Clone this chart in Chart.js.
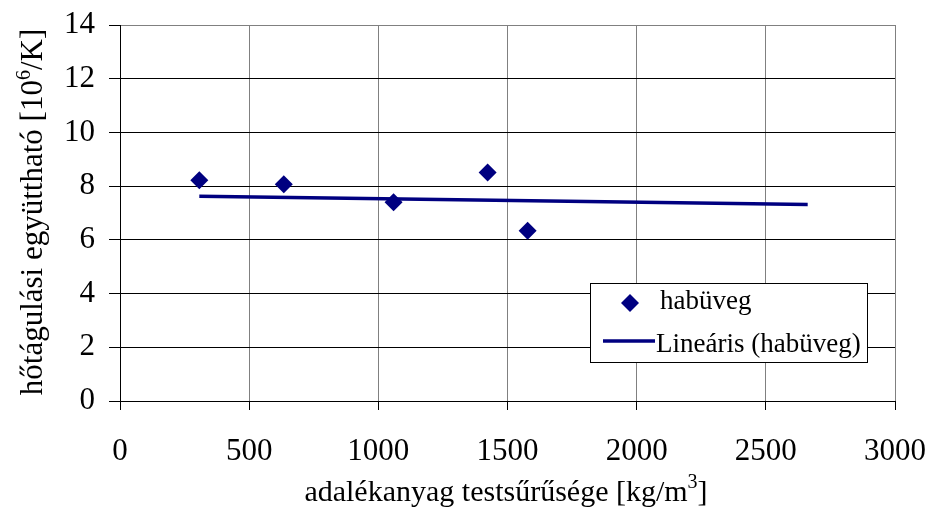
<!DOCTYPE html>
<html>
<head>
<meta charset="utf-8">
<script src="https://cdn.jsdelivr.net/npm/chart.js@4/dist/chart.umd.min.js"></script>
<style>
  html, body { margin: 0; padding: 0; background: #ffffff; }
  #wrap { width: 932px; height: 507px; }
</style>
</head>
<body>
<div id="wrap"><canvas id="c" width="932" height="507"></canvas></div>
<script>
// Measured samples: aggregate bulk density vs. thermal expansion coefficient
const densities    = [307, 634, 1059, 1423, 1578];
const coefficients = [8.22, 8.07, 7.40, 8.51, 6.34];

// Linear trend line end points
const trendX = [307, 2662];
const trendY = [7.62, 7.32];

// Axis tick values
const xTicks = [0, 500, 1000, 1500, 2000, 2500, 3000];
const yTicks = [0, 2, 4, 6, 8, 10, 12, 14];

// Texts
const seriesName = 'habüveg';
const trendName  = 'Lineáris (habüveg)';
const xTitleParts = [{ t: 'adalékanyag testsűrűsége [kg/m' }, { t: '3', sup: true }, { t: ']' }];
const yTitleParts = [{ t: 'hőtágulási együttható [10' }, { t: '6', sup: true }, { t: '/K]' }];

const NAVY = '#000080';
const SERIF = '"Liberation Serif", "Times New Roman", serif';

const pointData = densities.map((d, i) => ({ x: d, y: coefficients[i] }));
const trendData = trendX.map((d, i) => ({ x: d, y: trendY[i] }));

function partsWidth(ctx, parts, size, supSize) {
  let w = 0;
  parts.forEach(p => {
    ctx.font = (p.sup ? supSize : size) + 'px ' + SERIF;
    w += ctx.measureText(p.t).width;
  });
  return w;
}

function drawParts(ctx, parts, x, y, size, supSize, raise) {
  ctx.textAlign = 'left';
  ctx.textBaseline = 'alphabetic';
  let cx = x;
  parts.forEach(p => {
    ctx.font = (p.sup ? supSize : size) + 'px ' + SERIF;
    ctx.fillText(p.t, cx, p.sup ? y - raise : y);
    cx += ctx.measureText(p.t).width;
  });
}

const decorations = {
  id: 'decorations',
  beforeDraw(chart) {
    const ctx = chart.ctx;
    ctx.save();
    ctx.fillStyle = '#ffffff';
    ctx.fillRect(0, 0, chart.width, chart.height);
    ctx.restore();
  },
  afterDraw(chart) {
    const ctx = chart.ctx;
    ctx.save();
    ctx.fillStyle = '#000000';

    // x axis title
    const xw = partsWidth(ctx, xTitleParts, 30, 20);
    drawParts(ctx, xTitleParts, 506 - xw / 2, 501, 30, 20, 13);

    // y axis title (rotated)
    const yw = partsWidth(ctx, yTitleParts, 31, 20);
    ctx.save();
    ctx.translate(42, 212);
    ctx.rotate(-Math.PI / 2);
    drawParts(ctx, yTitleParts, -yw / 2, 0, 31, 20, 12);
    ctx.restore();

    // legend box
    const bx = 590, by = 283, bw = 277, bh = 79;
    ctx.fillStyle = '#ffffff';
    ctx.fillRect(bx, by, bw, bh);
    ctx.strokeStyle = '#000000';
    ctx.lineWidth = 1;
    ctx.strokeRect(bx + 0.5, by + 0.5, bw, bh);

    // legend entry: marker
    ctx.fillStyle = NAVY;
    const mx = 630, my = 303, r = 9;
    ctx.beginPath();
    ctx.moveTo(mx, my - r);
    ctx.lineTo(mx + r, my);
    ctx.lineTo(mx, my + r);
    ctx.lineTo(mx - r, my);
    ctx.closePath();
    ctx.fill();

    // legend entry: trend line
    ctx.strokeStyle = NAVY;
    ctx.lineWidth = 3.5;
    ctx.beginPath();
    ctx.moveTo(603, 341);
    ctx.lineTo(655, 341);
    ctx.stroke();

    ctx.fillStyle = '#000000';
    ctx.font = '27px ' + SERIF;
    ctx.textAlign = 'left';
    ctx.textBaseline = 'alphabetic';
    ctx.fillText(seriesName, 660, 309);
    ctx.fillText(trendName, 656, 352);
    ctx.restore();
  }
};

new Chart(document.getElementById('c'), {
  type: 'scatter',
  data: {
    datasets: [
      {
        label: trendName,
        data: trendData,
        showLine: true,
        borderColor: NAVY,
        borderWidth: 3.5,
        pointRadius: 0,
        fill: false,
        order: 2
      },
      {
        label: seriesName,
        data: pointData,
        showLine: false,
        pointStyle: 'rectRot',
        pointRadius: 9,
        pointHoverRadius: 9,
        backgroundColor: NAVY,
        borderColor: NAVY,
        borderWidth: 0,
        order: 1
      }
    ]
  },
  options: {
    responsive: false,
    animation: false,
    devicePixelRatio: 1,
    layout: { padding: { left: 0, top: 25, right: 37, bottom: 0 } },
    plugins: {
      legend: { display: false },
      tooltip: { enabled: false },
      title: { display: false }
    },
    scales: {
      x: {
        type: 'linear',
        min: 0,
        max: 3000,
        afterBuildTicks(scale) { scale.ticks = xTicks.map(v => ({ value: v })); },
        afterFit(scale) {
          scale.height = 106;
          scale.paddingLeft = 0;
          scale.paddingRight = 0;
        },
        ticks: {
          color: '#000000',
          font: { family: SERIF, size: 31 },
          padding: 23,
          maxRotation: 0,
          callback: v => String(v)
        },
        grid: {
          color: '#808080',
          lineWidth: 1,
          tickLength: 9,
          tickColor: '#000000'
        },
        border: { color: '#000000', width: 1 }
      },
      y: {
        type: 'linear',
        min: 0,
        max: 14,
        afterBuildTicks(scale) { scale.ticks = yTicks.map(v => ({ value: v })); },
        afterFit(scale) {
          scale.width = 120;
          scale.paddingTop = 0;
          scale.paddingBottom = 0;
        },
        ticks: {
          color: '#000000',
          font: { family: SERIF, size: 31 },
          padding: 14,
          callback: v => String(v)
        },
        grid: {
          color: ctx => (ctx.tick && ctx.tick.value === 14 ? '#808080' : '#000000'),
          lineWidth: 1,
          tickLength: 11,
          tickColor: '#000000'
        },
        border: { color: '#000000', width: 1 }
      }
    }
  },
  plugins: [decorations]
});
</script>
</body>
</html>
